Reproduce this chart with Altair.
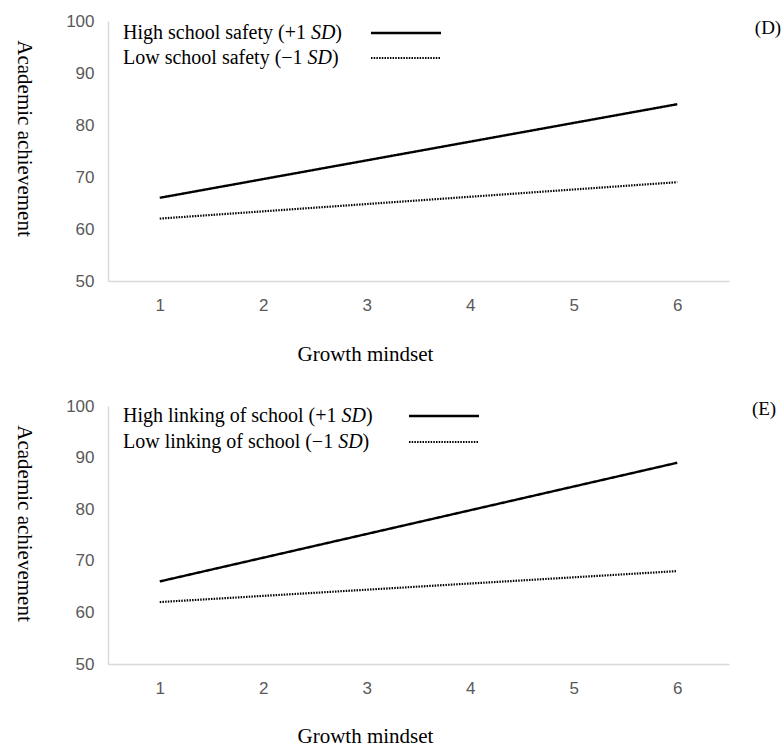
import altair as alt
import pandas as pd

# Simple slopes: predicted academic achievement at low/high growth mindset
mindset = [1, 6]
safety_high = [66, 84]
safety_low = [62, 69]
linking_high = [66, 89]
linking_low = [62, 68]

x_ticks = [1, 2, 3, 4, 5, 6]
y_ticks = [50, 60, 70, 80, 90, 100]

SERIF = "Liberation Serif"
SANS = "Liberation Sans"

# Times-metric advance widths (em/1000) used to place the italic "SD"
TIMES_W = {
    " ": 250, "(": 333, ")": 333, "+": 564, "\u2212": 564, "1": 500,
    "H": 722, "L": 611, "a": 444, "c": 444, "e": 444, "f": 333, "g": 500,
    "h": 500, "i": 278, "k": 500, "l": 278, "n": 500, "o": 500, "s": 389,
    "t": 278, "w": 722, "y": 500,
}


def text_width(s, size):
    return sum(TIMES_W.get(ch, 500) for ch in s) * size / 1000.0


def legend_entry(prefix, y, size=20, x0=15):
    """Draw 'prefix' + italic 'SD' + ')' starting at x0."""
    w_pre = text_width(prefix, size)
    w_sd = (500 + 722) * size / 1000.0
    common = dict(baseline="middle", align="left", fontSize=size, font=SERIF, color="#000000")
    a = alt.Chart().mark_text(**common).encode(x=alt.value(x0), y=alt.value(y), text=alt.value(prefix))
    b = alt.Chart().mark_text(fontStyle="italic", **common).encode(
        x=alt.value(x0 + w_pre), y=alt.value(y), text=alt.value("SD"))
    c = alt.Chart().mark_text(**common).encode(
        x=alt.value(x0 + w_pre + w_sd), y=alt.value(y), text=alt.value(")"))
    return [a, b, c]


def panel(high, low, high_label, low_label, tag, height, leg_y, key_x, tag_x, tag_y, title_y):
    df = pd.DataFrame({
        "mindset": mindset * 2,
        "achievement": high + low,
        "group": ["high"] * len(mindset) + ["low"] * len(mindset),
    })
    x = alt.X("mindset:Q",
              scale=alt.Scale(domain=[0.5, 6.5], nice=False, zero=False),
              axis=alt.Axis(values=x_ticks, title="Growth mindset", titleX=257, titleY=title_y,
                            titleAlign="center", titleBaseline="middle", labelPadding=16))
    y = alt.Y("achievement:Q",
              scale=alt.Scale(domain=[50, 100], nice=False, zero=False),
              axis=alt.Axis(values=y_ticks, title="Academic achievement", titleAngle=90,
                            titleX=-85, titleY=117, titleAlign="center",
                            titleBaseline="middle", labelPadding=14))
    lines = alt.Chart(df).mark_line(color="#000000").encode(
        x=x, y=y,
        detail="group:N",
        strokeDash=alt.StrokeDash("group:N", scale=alt.Scale(domain=["high", "low"],
                                  range=[[1, 0], [1.5, 1.2]]), legend=None),
        strokeWidth=alt.StrokeWidth("group:N", scale=alt.Scale(domain=["high", "low"],
                                    range=[2.4, 2.2]), legend=None),
    )
    key_hi = alt.Chart().mark_rule(color="#000000", strokeWidth=2.4).encode(
        x=alt.value(key_x), x2=alt.value(key_x + 70), y=alt.value(leg_y[0]))
    key_lo = alt.Chart().mark_rule(color="#000000", strokeWidth=2.2, strokeDash=[1.5, 1.2]).encode(
        x=alt.value(key_x), x2=alt.value(key_x + 70), y=alt.value(leg_y[1]))
    tag_mark = alt.Chart().mark_text(font=SERIF, fontSize=19, align="center", baseline="middle",
                                     color="#000000").encode(
        x=alt.value(tag_x), y=alt.value(tag_y), text=alt.value(tag))
    layers = [lines, key_hi, key_lo, tag_mark]
    layers += legend_entry(high_label, leg_y[0])
    layers += legend_entry(low_label, leg_y[1])
    return alt.layer(*layers).properties(width=621, height=height)


top = panel(safety_high, safety_low,
            "High school safety (+1 ", "Low school safety (\u22121 ",
            "(D)", 260, (12, 37), 263, 660, 7, 73)
bottom = panel(linking_high, linking_low,
               "High linking of school (+1 ", "Low linking of school (\u22121 ",
               "(E)", 258, (10, 36), 301, 656, 3, 72)

chart = alt.vconcat(top, bottom, spacing=125, bounds="flush").properties(
    padding={"left": 12, "top": 12, "right": 0, "bottom": 0},
).configure_view(stroke=None).configure_axis(
    grid=False, ticks=False,
    domainColor="#d9d9d9", domainWidth=1.5,
    labelFont=SANS, labelFontSize=17, labelColor="#595959",
    titleFont=SERIF, titleFontSize=21, titleFontWeight="normal", titleColor="#000000",
)

chart.save("out.html", embed_options={"renderer": "svg", "actions": False})
